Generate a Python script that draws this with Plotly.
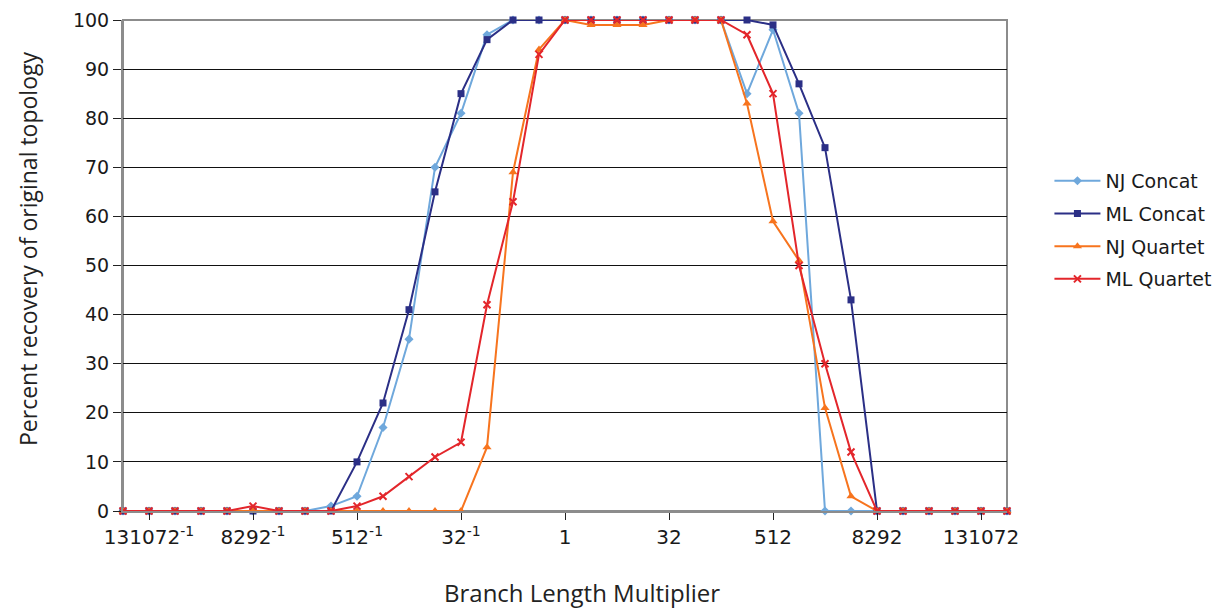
import plotly.graph_objects as go

idx = list(range(35))
tick_pos = [1, 5, 9, 13, 17, 21, 25, 29, 33]
tick_text = ["131072<sup>-1</sup>", "8292<sup>-1</sup>", "512<sup>-1</sup>", "32<sup>-1</sup>",
             "1", "32", "512", "8292", "131072"]

nj_concat = [0, 0, 0, 0, 0, 0, 0, 0, 1, 3, 17, 35, 70, 81, 97, 100, 100, 100, 100, 100,
             100, 100, 100, 100, 85, 98, 81, 0, 0, 0, 0, 0, 0, 0, 0]
ml_concat = [0, 0, 0, 0, 0, 0, 0, 0, 0, 10, 22, 41, 65, 85, 96, 100, 100, 100, 100, 100,
             100, 100, 100, 100, 100, 99, 87, 74, 43, 0, 0, 0, 0, 0, 0]
nj_quartet = [0, 0, 0, 0, 0, 0, 0, 0, 0, 0, 0, 0, 0, 0, 13, 69, 94, 100, 99, 99,
              99, 100, 100, 100, 83, 59, 51, 21, 3, 0, 0, 0, 0, 0, 0]
ml_quartet = [0, 0, 0, 0, 0, 1, 0, 0, 0, 1, 3, 7, 11, 14, 42, 63, 93, 100, 100, 100,
              100, 100, 100, 100, 97, 85, 50, 30, 12, 0, 0, 0, 0, 0, 0]

series = [
    ("NJ Concat", nj_concat, "#6FA8DC", "diamond", 7),
    ("ML Concat", ml_concat, "#2B2F86", "square", 7),
    ("NJ Quartet", nj_quartet, "#F7741E", "triangle-up", 8),
    ("ML Quartet", ml_quartet, "#E3262B", "x-thin", 7),
]

fig = go.Figure()
for name, vals, color, sym, size in series:
    marker = dict(symbol=sym, size=size, color=color)
    if sym == "x-thin":
        marker["line"] = dict(color=color, width=2)
    fig.add_trace(go.Scatter(x=idx, y=vals, name=name, mode="lines+markers",
                             legendgroup=name,
                             line=dict(color=color, width=2), marker=marker,
                             cliponaxis=False))

fig.update_layout(
    width=1228, height=611,
    margin=dict(l=123, r=221, t=20, b=100, autoexpand=False),
    paper_bgcolor="white", plot_bgcolor="white",
    font=dict(family="DejaVu Sans", color="#1a1a1a"),
    legend=dict(x=1.048, y=0.711, xanchor="left", yanchor="top",
                font=dict(size=19, family="DejaVu Sans"), tracegroupgap=5,
                itemwidth=46),
    shapes=[dict(type="rect", xref="paper", yref="paper", x0=0, x1=1, y0=0, y1=1,
                 line=dict(color="#8c8c8c", width=2), layer="below")],
    annotations=[
        dict(text="Branch Length Multiplier", xref="paper", yref="paper",
             x=0.519, y=-0.167, xanchor="center", yanchor="middle", showarrow=False,
             font=dict(size=24, family="Open Sans", color="#222")),
        dict(text="Percent recovery of original topology", xref="paper", yref="paper",
             x=-0.1075, y=0.5336, xanchor="center", yanchor="middle", showarrow=False,
             textangle=-90, font=dict(size=23, family="Open Sans", color="#222")),
    ],
)
fig.update_xaxes(range=[0, 34], tickvals=tick_pos, ticktext=tick_text, automargin=False,
                 ticks="outside", ticklen=7, tickcolor="#222", tickwidth=1,
                 showgrid=False, showline=True, linecolor="#8c8c8c", linewidth=2,
                 tickfont=dict(size=20, family="DejaVu Sans"), zeroline=False)
fig.update_yaxes(range=[0, 100], dtick=10, ticks="outside", ticklen=8, automargin=False,
                 tickcolor="#222", tickwidth=1,
                 showgrid=True, gridcolor="#111", gridwidth=1,
                 showline=True, linecolor="#8c8c8c", linewidth=2, zeroline=False,
                 tickfont=dict(size=19, family="DejaVu Sans"))

fig.write_html("out.html", config={"displayModeBar": False},
               post_script="document.body.style.margin='0';document.body.style.overflow='hidden';")
